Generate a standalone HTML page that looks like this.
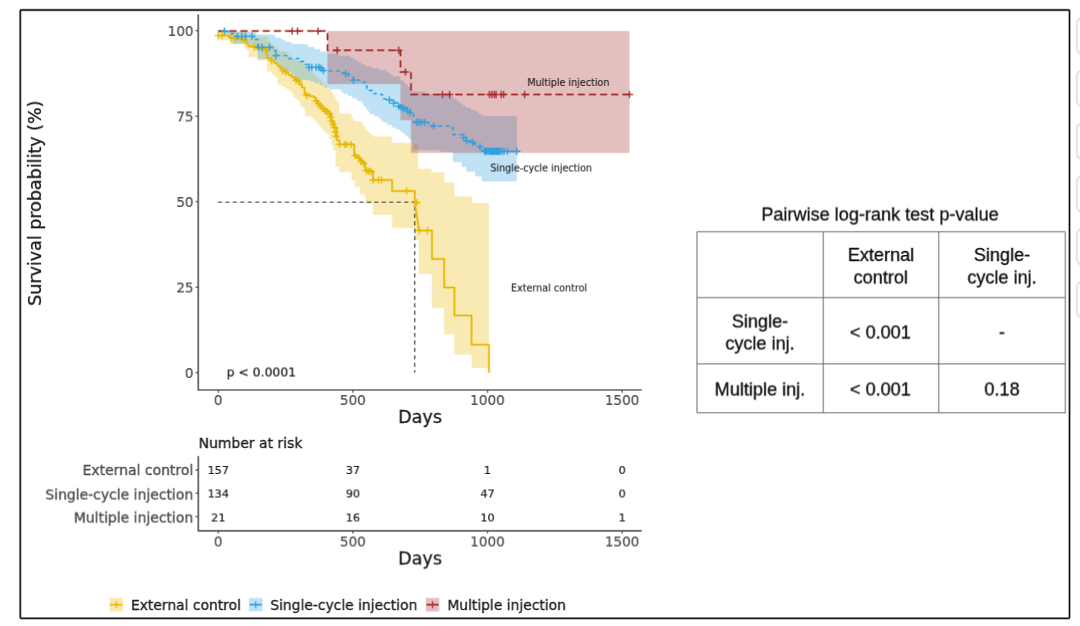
<!DOCTYPE html>
<html lang="en"><head><meta charset="utf-8"><title>Survival probability</title>
<style>
html,body{margin:0;padding:0;background:#fff;}
body{width:1080px;height:626px;overflow:hidden;font-family:"Liberation Sans","DejaVu Sans",sans-serif;}
svg{display:block;}
</style></head><body>
<svg width="1080" height="626" viewBox="0 0 1080 626">
<g id="c" transform="translate(-0.36 -0.36)">
<rect x="-2" y="-2" width="1084" height="630" fill="#fff"/>
<rect x="1076.9" y="17.6" width="14" height="36.6" rx="6" ry="6" fill="#fff" stroke="#dedede" stroke-width="1.6"/>
<rect x="1076.9" y="70.3" width="14" height="36.6" rx="6" ry="6" fill="#fff" stroke="#dedede" stroke-width="1.6"/>
<rect x="1076.9" y="123" width="14" height="36.6" rx="6" ry="6" fill="#fff" stroke="#dedede" stroke-width="1.6"/>
<rect x="1076.9" y="175.7" width="14" height="36.6" rx="6" ry="6" fill="#fff" stroke="#dedede" stroke-width="1.6"/>
<rect x="1076.9" y="228.4" width="14" height="36.6" rx="6" ry="6" fill="#fff" stroke="#dedede" stroke-width="1.6"/>
<rect x="1076.9" y="281.1" width="14" height="36.6" rx="6" ry="6" fill="#fff" stroke="#dedede" stroke-width="1.6"/>
<rect x="20.25" y="10" width="1049.25" height="608.3" fill="none" stroke="#000" stroke-width="1.6" rx="0.9"/>
<g id="plot">
<path d="M218.25 31.6L229 31.6L229 32.2L232.8 32.2L232.8 32.3L244.05 32.3L244.05 34.4L255.3 34.4L255.3 36.5L267 36.5L267 36.9L267.8 36.9L267.8 41.5L270.75 41.5L270.75 44L273.7 44L273.7 46.5L276.2 46.5L276.2 49L278.7 49L278.7 51.5L287 51.5L287 54.8L289.77 54.8L289.77 56.77L292.53 56.77L292.53 58.73L295.3 58.73L295.3 60.7L302 60.7L302 64L304.6 64L304.6 66.4L307.2 66.4L307.2 68.8L309.8 68.8L309.8 71.2L312.4 71.2L312.4 73.6L315 73.6L315 76L317.08 76L317.08 78.05L319.17 78.05L319.17 80.1L321.25 80.1L321.25 82.15L323.33 82.15L323.33 84.2L325.42 84.2L325.42 86.25L327.5 86.25L327.5 88.3L329.2 88.3L329.2 89.2L331.1 89.2L331.1 92.4L333 92.4L333 95.6L334.95 95.6L334.95 98.8L336.9 98.8L336.9 102L339.4 102L339.4 113.5L349.6 113.5L349.6 114.1L351.55 114.1L351.55 117.65L353.5 117.65L353.5 121.2L361.2 121.2L361.2 122.4L363.1 122.4L363.1 126.25L365 126.25L365 130.1L367.57 130.1L367.57 132.23L370.13 132.23L370.13 134.37L372.7 134.37L372.7 136.5L391.8 136.5L391.8 137.1L391.8 137.1L391.8 142.9L411.4 142.9L411.4 144.1L418.1 144.1L418.1 144.1L418.1 144.1L418.1 168.9L431.5 168.9L431.5 168.9L431.5 168.9L431.5 172.3L444.3 172.3L444.3 172.3L444.3 172.3L444.3 182.3L454.4 182.3L454.4 182.3L454.4 182.3L454.4 196.4L471.8 196.4L471.8 196.4L471.8 196.4L471.8 203.2L488.8 203.2L488.8 203.2L488.8 368L488.8 368L471.6 368L471.6 354.5L471.6 354.5L471.6 354.5L454.4 354.5L454.4 334.4L454.4 334.4L454.4 334.4L444.2 334.4L444.2 308.2L444.2 308.2L444.2 308.2L432 308.2L432 274L432 274L432 274L418.8 274L418.8 240L418.8 240L418.8 240L414.8 240L414.8 227.8L414.8 227.8L414.8 227.8L392.1 227.8L392.1 214.6L392.1 214.6L392.1 214.6L373.1 214.6L373.1 203.8L373.1 203.8L373.1 203.8L365.2 203.8L365.2 194.5L365.2 194.5L365.2 194.5L360.2 194.5L360.2 186.6L360.2 186.6L360.2 186.6L355.2 186.6L355.2 180.1L355.2 180.1L355.2 180.1L351.6 180.1L351.6 172.2L351.6 172.2L351.6 172.2L339.3 172.2L339.3 166.5L339.3 166.5L339.3 166.5L335.7 166.5L335.7 150L333 150L333 145.4L331.7 145.4L331.7 139.1L329.2 139.1L329.2 133.9L326.6 133.9L326.6 132L324.7 132L324.7 130.1L322.8 130.1L322.8 128.2L320.9 128.2L320.9 126.3L319 126.3L319 123.75L317.05 123.75L317.05 121.2L315.1 121.2L315.1 119L312.75 119L312.75 116.8L310.4 116.8L310.4 116.1L305.3 116.1L305.3 110.4L304.6 110.4L304.6 108.2L302.45 108.2L302.45 106L300.3 106L300.3 101.7L298.9 101.7L298.9 99.55L296 99.55L296 97.4L293.1 97.4L293.1 93.1L291.7 93.1L291.7 90.95L288.8 90.95L288.8 88.8L285.9 88.8L285.9 86.65L281.6 86.65L281.6 84.5L277.3 84.5L277.3 78.7L277.3 78.7L277.3 76.55L274.45 76.55L274.45 74.4L271.6 74.4L271.6 71.6L267.2 71.6L267.2 61.5L267.2 61.5L267.2 60.7L257 60.7L257 57.75L256.2 57.75L256.2 57.3L248.7 57.3L248.7 50L246.1 50L246.1 47.1L244.4 47.1L244.4 44.2L242.7 44.2L242.7 44.2L229.3 44.2L229.3 40.4L229.3 40.4L229.3 40.4L218.25 40.4Z" fill="#E7B800" fill-opacity="0.3"/>
<path d="M218.25 31L228.7 31L228.7 31L247.8 31L247.8 31.5L251.2 31.5L251.2 32.3L256.2 32.3L256.2 34.4L272 34.4L272 34.8L275.3 34.8L275.3 37.75L281.2 37.75L281.2 39.8L285.3 39.8L285.3 41.9L291.2 41.9L291.2 44L302 44L302 44.4L308 44.4L308 46.77L314 46.77L314 49.13L320 49.13L320 51.5L327.5 51.5L327.5 54L338.75 54L338.75 55.88L350 55.88L350 57.75L353.75 57.75L353.75 59.94L357.5 59.94L357.5 62.12L361.25 62.12L361.25 64.31L365 64.31L365 66.5L372 66.5L372 68.25L379 68.25L379 70L386.7 70L386.7 72.6L389.9 72.6L389.9 74.5L393.1 74.5L393.1 76.4L400 76.4L400 79.6L402.5 79.6L402.5 81.98L405 81.98L405 84.36L407.5 84.36L407.5 86.74L410 86.74L410 89.12L412.5 89.12L412.5 91.5L425 91.5L425 94L450 94L450 96.5L453.33 96.5L453.33 99L456.67 99L456.67 101.5L460 101.5L460 104L463 104L463 105.88L466 105.88L466 107.75L470.5 107.75L470.5 109.62L475 109.62L475 111.5L478 111.5L478 113.75L481 113.75L481 116L516.8 116L516.8 116L516.8 181.4L516.8 181.4L481.9 181.4L481.9 177L481.9 177L481.9 176.3L475.2 176.3L475.2 172.3L475.2 172.3L475.2 171.6L466.4 171.6L466.4 167.6L466.4 167.6L466.4 166.9L461.7 166.9L461.7 162.9L461.7 162.9L461.7 162.2L453 162.2L453 153.5L453 153.5L453 151.8L439.9 151.8L439.9 150.1L426.8 150.1L426.8 150.1L413.3 150.1L413.3 144.2L411.7 144.2L411.7 140.7L410.7 140.7L410.7 138.35L408.05 138.35L408.05 136L405.4 136L405.4 133.7L402.7 133.7L402.7 131.4L400 131.4L400 129.45L395.9 129.45L395.9 127.5L391.8 127.5L391.8 124.95L387.35 124.95L387.35 122.4L382.9 122.4L382.9 120.5L381 120.5L381 118.6L379.1 118.6L379.1 116.35L374.6 116.35L374.6 114.1L370.1 114.1L370.1 111.85L368.2 111.85L368.2 109.6L366.3 109.6L366.3 106.4L363.75 106.4L363.75 103.2L361.2 103.2L361.2 100.65L356.7 100.65L356.7 98.1L352.2 98.1L352.2 95.9L347.7 95.9L347.7 93.7L343.2 93.7L343.2 91.75L341.3 91.75L341.3 89.8L339.4 89.8L339.4 89.2L329.2 89.2L329.2 87.28L324.4 87.28L324.4 85.35L319.6 85.35L319.6 83.42L314.8 83.42L314.8 81.5L310 81.5L310 80L296.25 80L296.25 77.4L293.73 77.4L293.73 74.8L291.2 74.8L291.2 71.5L285.3 71.5L285.3 69L278.7 69L278.7 63.2L276.2 63.2L276.2 61.5L273.25 61.5L273.25 59.8L270.3 59.8L270.3 59L267 59L267 59L257.8 59L257.8 49L257.8 49L257.8 46.3L249.9 46.3L249.9 43.6L242 43.6L242 43.6L232.8 43.6L232.8 39.8L230.75 39.8L230.75 36L228.7 36L228.7 33.75L223.47 33.75L223.47 31.5L218.25 31.5Z" fill="#2E9FDF" fill-opacity="0.3"/>
<path d="M327.5 31H629.5V152.8H411V120.25H400.5V84H327.5Z" fill="#A52A2A" fill-opacity="0.3"/>
<path d="M217.9 202.1H414.8V372.7" fill="none" stroke="#333" stroke-width="1.1" stroke-dasharray="4.1 3.35"/>
<path d="M218.25 35.55H228.8V35.55H229.3V37.7H231.7V37.96H235.5V38.4H243V38.4H243.7V39.9H246.6V44.2H248.5V46.4H254.3V46.4H256.2V48.2H265.3V49H267.2V58.6H271.6V60.8H274.45V63.3H277.3V65.8H280.15V68.3H283V70.8H285.9V72.97H288.8V75.13H291.7V77.3H294.55V79.1H297.4V80.9H299.55V84.15H301.7V87.4H304.6V94.6H310V96.2H313.8V97.5H315.75V100.35H317.7V103.2H320.25V105.8H322.8V108.4H326V110.95H329.2V113.5H331.7V121.2H334.3V127.5H336.9V140.3H339.4V144.2H353.5V144.8H354.2V155H357.2V157.5H360.2V160H362.35V162.15H364.5V164.3H365.2V170.8H373.1V171.5H373.1V180.1H392.1V180.1H392.1V190.9H414.8V190.9H414.8V202.4L419 230.6H432V230.6H432V258.9H444.2V258.9H444.2V287.4H454.4V287.4H454.4V315.5H471.6V315.5H471.6V344.7H489V344.7H489V372.7" fill="none" stroke="#E7B800" stroke-width="1.75" stroke-linejoin="round"/>
<path d="M218.25 31.1H224.5V31.1H228.3V31.7H231.7V33.6H235V34.8H236.5V36.3H253V36.3H255.7V39.65H257.8V47.3H269.5V47.3H272V49H274.5V50.7H275.9V55.7H288.8V58.6H300.3V61.5H305.3V64.4H308V67.2H321V67.2H323.3V70.8H337.8V70.8H340.5V73H346.3V73.7H348.45V75.5H350.6V77.3H353.5V80.2H361.8V82.1H365V86H366.9V88.25H368.8V90.5H372.7V93.7H379.1V94.3H382.3V98.8H389.3V100H393.1V102.6H397V105.2H401.85V107.6H406.7V110H410V112.5H413.3V115H413.6V122H426.7V122.2H428.35V124.1H430V126H452.8V126.1H452.8V134.5H460V134.7H463.8V137.7H466.7V141H472.9V142.6H474.7V144.7H476.5V146.8H480.5V146.8H482.5V151.2H520V151.2" fill="none" stroke="#2E9FDF" stroke-width="1.55" stroke-dasharray="3.7 3.8"/>
<path d="M218.25 31.1H327.5V50.25H400.5V72H411V94.5H629.5" fill="none" stroke="#A52A2A" stroke-width="1.75" stroke-dasharray="7.1 4.03"/>
<path d="M214.6 35.55h7.2M218.2 31.95v7.2M218.4 35.55h7.2M222 31.95v7.2M228.1 37.96h7.2M231.7 34.36v7.2M231.9 38.4h7.2M235.5 34.8v7.2M240.1 39.9h7.2M243.7 36.3v7.2M250.7 47.1h7.2M254.3 43.5v7.2M260.15 48.8h7.2M263.75 45.2v7.2M262.65 50h7.2M266.25 46.4v7.2M268 60.8h7.2M271.6 57.2v7.2M279.4 70.8h7.2M283 67.2v7.2M282.3 71.8h7.2M285.9 68.2v7.2M292.4 80.2h7.2M296 76.6v7.2M295.3 81.5h7.2M298.9 77.9v7.2M303.2 95.6h7.2M306.8 92v7.2M312.4 101h7.2M316 97.4v7.2M314.7 103.8h7.2M318.3 100.2v7.2M316.9 106h7.2M320.5 102.4v7.2M319.2 108.4h7.2M322.8 104.8v7.2M321.4 110.2h7.2M325 106.6v7.2M323.4 111.8h7.2M327 108.2v7.2M325.6 113.5h7.2M329.2 109.9v7.2M326.9 117.5h7.2M330.5 113.9v7.2M328.1 121.2h7.2M331.7 117.6v7.2M329.4 124.5h7.2M333 120.9v7.2M330.7 127.5h7.2M334.3 123.9v7.2M331.6 132h7.2M335.2 128.4v7.2M332.6 136.5h7.2M336.2 132.9v7.2M335.8 144.2h7.2M339.4 140.6v7.2M341.2 144.4h7.2M344.8 140.8v7.2M343.2 144.4h7.2M346.8 140.8v7.2M347.3 144.6h7.2M350.9 141v7.2M351.4 155.5h7.2M355 151.9v7.2M355.15 158h7.2M358.75 154.4v7.2M357.3 161.5h7.2M360.9 157.9v7.2M360.2 163.6h7.2M363.8 160v7.2M363 170.8h7.2M366.6 167.2v7.2M365.2 171.2h7.2M368.8 167.6v7.2M367.4 171.5h7.2M371 167.9v7.2M369.5 180.1h7.2M373.1 176.5v7.2M375 180.1h7.2M378.6 176.5v7.2M378.1 180.1h7.2M381.7 176.5v7.2M403 190.9h7.2M406.6 187.3v7.2M413.4 202.4h7.2M417 198.8v7.2M415.8 230.6h7.2M419.4 227v7.2M423.8 230.6h7.2M427.4 227v7.2" fill="none" stroke="#E7B800" stroke-width="1.3"/>
<path d="M220.8 31.1h7.2M224.4 27.5v7.2M233.8 36.3h7.2M237.4 32.7v7.2M238.2 36.3h7.2M241.8 32.7v7.2M242 36.3h7.2M245.6 32.7v7.2M248.3 36.3h7.2M251.9 32.7v7.2M255.1 47.3h7.2M258.7 43.7v7.2M258.4 47.3h7.2M262 43.7v7.2M265.9 47.3h7.2M269.5 43.7v7.2M272.3 55.7h7.2M275.9 52.1v7.2M305.4 67.2h7.2M309 63.6v7.2M308.2 67.2h7.2M311.8 63.6v7.2M312.5 67.2h7.2M316.1 63.6v7.2M315.4 67.2h7.2M319 63.6v7.2M317.5 68.2h7.2M321.1 64.6v7.2M319.7 70.6h7.2M323.3 67v7.2M342.2 73.8h7.2M345.8 70.2v7.2M349.9 80.2h7.2M353.5 76.6v7.2M385.7 100h7.2M389.3 96.4v7.2M390.15 103.2h7.2M393.75 99.6v7.2M395.15 106.2h7.2M398.75 102.6v7.2M397.65 107.5h7.2M401.25 103.9v7.2M400.15 108.7h7.2M403.75 105.1v7.2M403.9 110.5h7.2M407.5 106.9v7.2M406.4 112.5h7.2M410 108.9v7.2M413.2 122.2h7.2M416.8 118.6v7.2M415.5 122.2h7.2M419.1 118.6v7.2M417.7 122.2h7.2M421.3 118.6v7.2M421 122.2h7.2M424.6 118.6v7.2M430.05 126.1h7.2M433.65 122.5v7.2M460.2 137.7h7.2M463.8 134.1v7.2M463.1 141h7.2M466.7 137.4v7.2M469.3 142.6h7.2M472.9 139v7.2M476.4 146.8h7.2M480 143.2v7.2M481 151.2h7.2M484.6 147.6v7.2M482.3 151.2h7.2M485.9 147.6v7.2M483.6 151.2h7.2M487.2 147.6v7.2M485.4 151.2h7.2M489 147.6v7.2M486.6 151.2h7.2M490.2 147.6v7.2M487.8 151.2h7.2M491.4 147.6v7.2M489 151.2h7.2M492.6 147.6v7.2M490.2 151.2h7.2M493.8 147.6v7.2M491.4 151.2h7.2M495 147.6v7.2M492.6 151.2h7.2M496.2 147.6v7.2M493.8 151.2h7.2M497.4 147.6v7.2M495 151.2h7.2M498.6 147.6v7.2M496.4 151.2h7.2M500 147.6v7.2M498.4 151.2h7.2M502 147.6v7.2M500.4 151.2h7.2M504 147.6v7.2M503.8 151.2h7.2M507.4 147.6v7.2M513.2 151.2h7.2M516.8 147.6v7.2" fill="none" stroke="#2E9FDF" stroke-width="1.3"/>
<path d="M288.6 31.1h7.2M292.2 27.5v7.2M293.9 31.1h7.2M297.5 27.5v7.2M314.4 31.1h7.2M318 27.5v7.2M333.6 50.25h7.2M337.2 46.65v7.2M395.15 50.25h7.2M398.75 46.65v7.2M401.9 72h7.2M405.5 68.4v7.2M438.9 94.5h7.2M442.5 90.9v7.2M446.1 94.5h7.2M449.7 90.9v7.2M485.8 94.5h7.2M489.4 90.9v7.2M488.3 94.5h7.2M491.9 90.9v7.2M490.6 94.5h7.2M494.2 90.9v7.2M492.5 94.5h7.2M496.1 90.9v7.2M497.5 94.5h7.2M501.1 90.9v7.2M500 94.5h7.2M503.6 90.9v7.2M521.1 94.5h7.2M524.7 90.9v7.2M625.9 94.5h7.2M629.5 90.9v7.2" fill="none" stroke="#A52A2A" stroke-width="1.3"/>
<path d="M198.2 14.5V390H641.7" fill="none" stroke="#454545" stroke-width="1.45" stroke-linejoin="round"/>
<path d="M195.6 30.7H198.2M195.6 116.2H198.2M195.6 201.7H198.2M195.6 287.2H198.2M195.6 372.7H198.2" stroke="#454545" stroke-width="1.1"/>
<path d="M218.3 390V392.8M352.9 390V392.8M487.5 390V392.8M622.1 390V392.8" stroke="#454545" stroke-width="1.1"/>
<g font-family="'DejaVu Sans', 'Liberation Sans', sans-serif" font-size="13.6" fill="#4d4d4d" stroke="#4d4d4d" stroke-width="0.18">
<text x="193.6" y="36" text-anchor="end">100</text>
<text x="193.6" y="121.5" text-anchor="end">75</text>
<text x="193.6" y="207" text-anchor="end">50</text>
<text x="193.6" y="292.5" text-anchor="end">25</text>
<text x="193.6" y="378" text-anchor="end">0</text>
<text x="218.3" y="404.9" text-anchor="middle">0</text>
<text x="352.9" y="404.9" text-anchor="middle">500</text>
<text x="487.5" y="404.9" text-anchor="middle">1000</text>
<text x="622.1" y="404.9" text-anchor="middle">1500</text>
<text x="218.3" y="546.2" text-anchor="middle">0</text>
<text x="352.9" y="546.2" text-anchor="middle">500</text>
<text x="487.5" y="546.2" text-anchor="middle">1000</text>
<text x="622.1" y="546.2" text-anchor="middle">1500</text>
</g>
<g font-family="'DejaVu Sans', 'Liberation Sans', sans-serif" fill="#1c1c1c" stroke="#1c1c1c" stroke-width="0.3">
<text x="420" y="423" font-size="17.6" text-anchor="middle">Days</text>
<text x="420" y="564.4" font-size="17.6" text-anchor="middle">Days</text>
<text transform="translate(41 203.2) rotate(-90)" font-size="17.5" text-anchor="middle">Survival probability (%)</text>
<text x="226.6" y="376.6" font-size="12.4" stroke-width="0.2">p &lt; 0.0001</text>
<text x="527.3" y="86" font-size="9.6" stroke-width="0.1">Multiple injection</text>
<text x="490.3" y="171.7" font-size="9.6" stroke-width="0.1">Single-cycle injection</text>
<text x="511" y="291.2" font-size="9.6" stroke-width="0.1">External control</text>
<text x="198.6" y="448" font-size="13.95">Number at risk</text>
</g>
<path d="M198.25 456.2V530.85H641.7" fill="none" stroke="#454545" stroke-width="1.45" stroke-linejoin="round"/>
<path d="M195.6 470H198.2M195.6 493.2H198.2M195.6 516.7H198.2" stroke="#454545" stroke-width="1.1"/>
<path d="M218.3 530.75V533.5M352.9 530.75V533.5M487.5 530.75V533.5M622.1 530.75V533.5" stroke="#454545" stroke-width="1.1"/>
<g font-family="'DejaVu Sans', 'Liberation Sans', sans-serif" font-size="13.95" fill="#4d4d4d" stroke="#4d4d4d" stroke-width="0.3" text-anchor="end">
<text x="193.2" y="475">External control</text>
<text x="193.2" y="499.2">Single-cycle injection</text>
<text x="193.2" y="522.5">Multiple injection</text>
</g>
<g font-family="'DejaVu Sans', 'Liberation Sans', sans-serif" font-size="11.2" fill="#1c1c1c" stroke="#1c1c1c" stroke-width="0.18" text-anchor="middle">
<text x="218.3" y="473.9">157</text>
<text x="352.9" y="473.9">37</text>
<text x="487.5" y="473.9">1</text>
<text x="622.1" y="473.9">0</text>
<text x="218.3" y="497.5">134</text>
<text x="352.9" y="497.5">90</text>
<text x="487.5" y="497.5">47</text>
<text x="622.1" y="497.5">0</text>
<text x="218.3" y="521.2">21</text>
<text x="352.9" y="521.2">16</text>
<text x="487.5" y="521.2">10</text>
<text x="622.1" y="521.2">1</text>
</g>
<g font-family="'DejaVu Sans', 'Liberation Sans', sans-serif" font-size="13.86" fill="#1c1c1c" stroke="#1c1c1c" stroke-width="0.3">
<rect x="109.5" y="598" width="13.5" height="13.4" fill="#E7B800" fill-opacity="0.3" stroke="none"/>
<path d="M110.2 604.7h12.1" stroke="#E7B800" stroke-width="1.7" fill="none"/><path d="M116.25 601.1v7.2" stroke="#E7B800" stroke-width="1.2" fill="none"/>
<text x="131" y="610.1">External control</text>
<rect x="249" y="598" width="13.5" height="13.4" fill="#2E9FDF" fill-opacity="0.3" stroke="none"/>
<path d="M249.7 604.7h12.1" stroke="#2E9FDF" stroke-width="1.7" fill="none"/><path d="M255.75 601.1v7.2" stroke="#2E9FDF" stroke-width="1.2" fill="none"/>
<text x="270.3" y="610.1">Single-cycle injection</text>
<rect x="425.8" y="598" width="13.5" height="13.4" fill="#A52A2A" fill-opacity="0.3" stroke="none"/>
<path d="M426.5 604.7h12.1" stroke="#A52A2A" stroke-width="1.7" fill="none"/><path d="M432.55 601.1v7.2" stroke="#A52A2A" stroke-width="1.2" fill="none"/>
<text x="447.3" y="610.1">Multiple injection</text>
</g>
</g>
<g font-family="'Liberation Sans', Arial, Helvetica, sans-serif" font-size="18.1" fill="#111" stroke="#111" stroke-width="0.3" text-anchor="middle">
<text x="880" y="220.4">Pairwise log-rank test p-value</text>
<path d="M697 231.75H1065.3V412.8H697ZM823.25 231.75V412.8M938.75 231.75V412.8M697 297.6H1065.3M697 363.9H1065.3" fill="none" stroke="#6e6e6e" stroke-width="1"/>
<text x="881" y="261.1">External</text><text x="880.8" y="283.3">control</text>
<text x="1002" y="261.1">Single-</text><text x="1002" y="283.3">cycle inj.</text>
<text x="760" y="327.2">Single-</text><text x="760" y="349.4">cycle inj.</text>
<text x="880.4" y="338.6">&lt; 0.001</text><text x="1002" y="338.6">-</text>
<text x="760" y="395.4">Multiple inj.</text><text x="880.4" y="395.4">&lt; 0.001</text><text x="1002" y="395.4">0.18</text>
</g>
</g>
<use href="#c" x="0.72" y="0" opacity="0.5"/>
<use href="#c" x="0" y="0.72" opacity="0.3333"/>
<use href="#c" x="0.72" y="0.72" opacity="0.25"/>
</svg>
</body></html>
